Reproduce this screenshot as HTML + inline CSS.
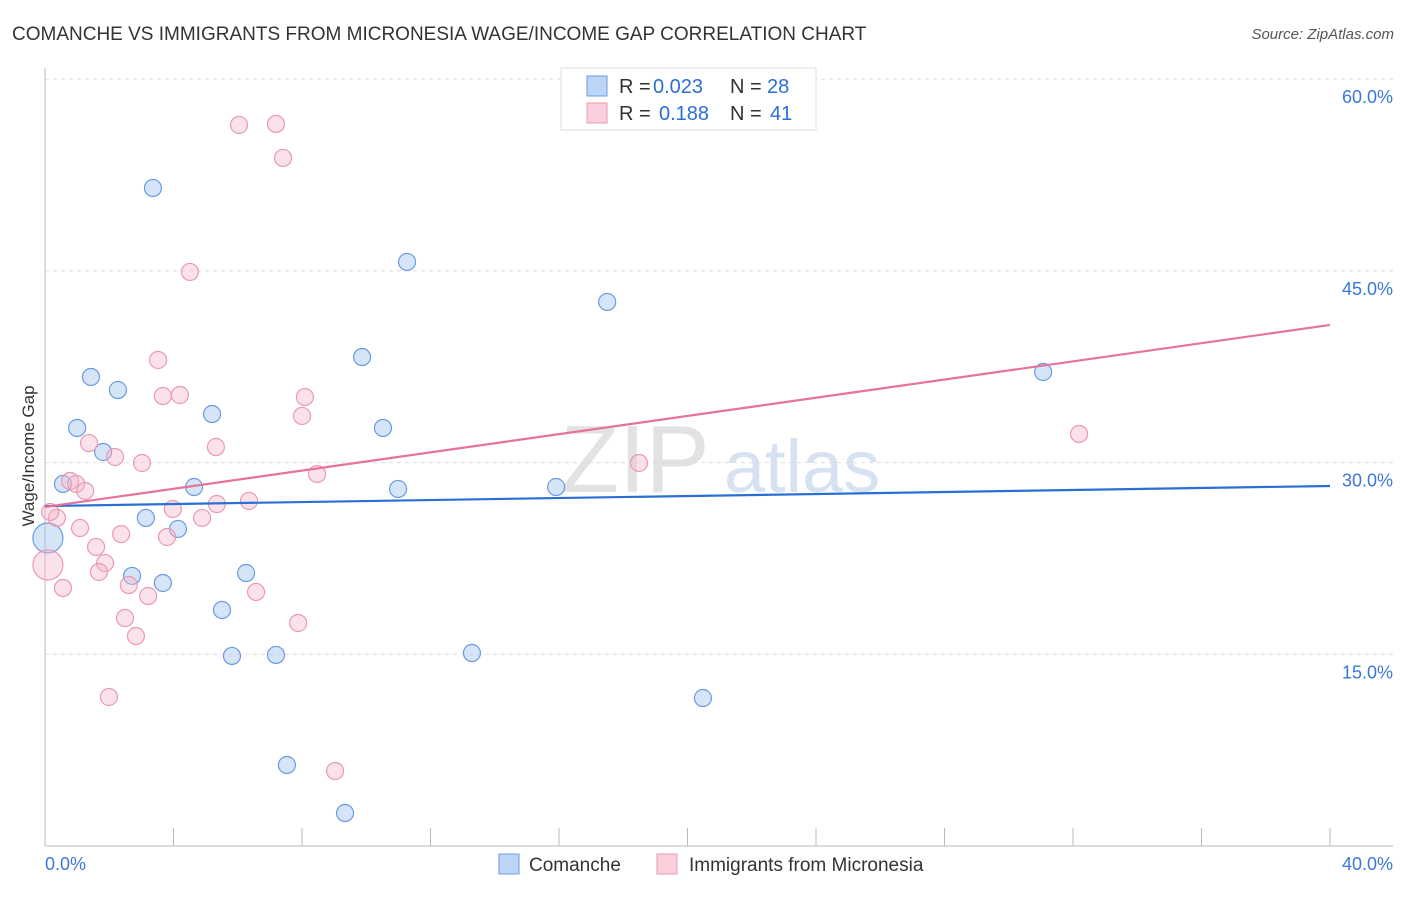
<!DOCTYPE html>
<html><head><meta charset="utf-8"><style>
body{margin:0;background:#fff;font-family:"Liberation Sans",sans-serif}
svg text{font-family:"Liberation Sans",sans-serif}
</style></head><body>
<svg id="c" width="1406" height="892">
<text x="12" y="40" font-size="19" fill="#333">COMANCHE VS IMMIGRANTS FROM MICRONESIA WAGE/INCOME GAP CORRELATION CHART</text>
<text x="1394" y="39" font-size="15" fill="#555" font-style="italic" text-anchor="end">Source: ZipAtlas.com</text>
<g><text x="635" y="492" font-size="96" fill="#e2e2e2" font-family="Liberation Serif" text-anchor="middle">ZIP</text><text x="802" y="492" font-size="74" fill="#d6e2f2" text-anchor="middle">atlas</text></g>
<g id="grid"></g><g id="axes"></g><g id="marks"></g>
<text transform="translate(34,456) rotate(-90)" font-size="17" fill="#333" text-anchor="middle">Wage/Income Gap</text>
<g>
<rect x="561" y="68" width="255" height="62" fill="#fff" stroke="#ddd"/>
<rect x="587" y="76" width="20" height="20" fill="#bcd4f5" stroke="#6a9be0"/>
<text x="619" y="93" font-size="20" fill="#333">R =</text>
<text x="653" y="93" font-size="20" fill="#2a6fd6">0.023</text>
<text x="730" y="93" font-size="20" fill="#333">N =</text>
<text x="767" y="93" font-size="20" fill="#2a6fd6">28</text>
<rect x="587" y="103" width="20" height="20" fill="#fbd0dc" stroke="#e89ab0"/>
<text x="619" y="120" font-size="20" fill="#333">R =</text>
<text x="659" y="120" font-size="20" fill="#2a6fd6">0.188</text>
<text x="730" y="120" font-size="20" fill="#333">N =</text>
<text x="770" y="120" font-size="20" fill="#2a6fd6">41</text>
</g>
<g>
<rect x="499" y="854" width="20" height="20" fill="#bcd4f5" stroke="#6a9be0"/>
<text x="529" y="871" font-size="19" fill="#333">Comanche</text>
<rect x="657" y="854" width="20" height="20" fill="#fbd0dc" stroke="#e89ab0"/>
<text x="689" y="871" font-size="19" fill="#333">Immigrants from Micronesia</text>
</g>
</svg>
<script>
const yTicks=[15,30,45,60];
const xTickLabels=["0.0%","40.0%"];
const blueX=[3.36,11.27,17.50,9.87,1.43,2.27,5.20,1.00,10.52,1.81,0.56,4.64,10.99,15.91,3.14,4.14,0.09,2.71,6.26,3.67,5.51,5.82,7.19,13.29,20.48,7.53,9.34,31.07];
const blueY=[51.49,45.70,42.57,38.26,36.70,35.68,33.80,32.71,32.71,30.83,28.33,28.09,27.94,28.09,25.67,24.81,24.10,21.13,21.36,20.58,18.47,14.87,14.95,15.10,11.58,6.34,2.58,37.09];
const pinkX=[6.04,7.19,7.41,4.51,3.52,3.67,4.20,8.09,8.00,1.37,5.32,2.18,3.02,8.47,18.49,32.19,0.78,0.97,1.25,0.37,1.09,3.98,4.89,5.35,6.35,2.37,3.80,1.59,1.87,1.68,2.61,3.21,6.57,0.56,2.49,2.83,7.88,1.99,9.03,0.09,0.16];
const pinkY=[56.42,56.50,53.84,44.92,38.03,35.21,35.29,35.13,33.65,31.53,31.22,30.44,29.97,29.11,29.97,32.24,28.56,28.33,27.78,25.67,24.88,26.37,25.67,26.76,27.00,24.41,24.18,23.40,22.14,21.44,20.42,19.56,19.88,20.19,17.84,16.43,17.45,11.66,5.87,21.99,26.14];
const blueBig=[16];const pinkBig=[39];
const blueTrend=[26.6,28.17];const pinkTrend=[26.53,40.77];
const NS="http://www.w3.org/2000/svg";
const X=v=>45+v/40*1285, Y=v=>846-v/15*191.7;
function mk(tag,attrs,parent){const e=document.createElementNS(NS,tag);for(const k in attrs)e.setAttribute(k,attrs[k]);document.getElementById(parent).appendChild(e);return e;}
yTicks.forEach(t=>{
 const l=mk('line',{x1:45,x2:1393,y1:Y(t),y2:Y(t),stroke:'#ddd','stroke-dasharray':'4,4'},'grid');
 
 
 const tx=mk('text',{x:1393,y:Y(t)+24,'font-size':18,fill:'#3a78d8','text-anchor':'end'},'grid');
 tx.textContent=t.toFixed(1)+'%';
 
 
});
mk('line',{x1:45,x2:45,y1:68,y2:846,stroke:'#bbb'},'axes');
mk('line',{x1:45,x2:1393,y1:846,y2:846,stroke:'#bbb'},'axes');
for(let k=0;k<=10;k++){const l=mk('line',{x1:X(k*4),x2:X(k*4),y1:828,y2:846,stroke:'#bbb'},'axes');
 
 }
xTickLabels.forEach((s,i)=>{const t=mk('text',{x:i?1393:45,y:870,'font-size':18,fill:'#3a78d8','text-anchor':i?'end':'start'},'axes');t.textContent=s;
 
 });
function pts(xs,ys,big,fill,stroke,name){xs.forEach((v,i)=>{const c=mk('circle',{cx:X(v),cy:Y(ys[i]),r:big.includes(i)?15:8.5,fill:fill,stroke:stroke,'stroke-width':1.2},'marks');
 
 });}
pts(blueX,blueY,blueBig,'rgba(164,196,240,0.45)','#6a9be0','comanche-point');
pts(pinkX,pinkY,pinkBig,'rgba(246,182,202,0.4)','#e99ab3','micronesia-point');
const bl=mk('line',{x1:X(0),x2:X(40),y1:Y(blueTrend[0]),y2:Y(blueTrend[1]),stroke:'#2a6fd6','stroke-width':2.2},'marks');


const pl=mk('line',{x1:X(0),x2:X(40),y1:Y(pinkTrend[0]),y2:Y(pinkTrend[1]),stroke:'#e8729a','stroke-width':2.2},'marks');


</script>
</body></html>
